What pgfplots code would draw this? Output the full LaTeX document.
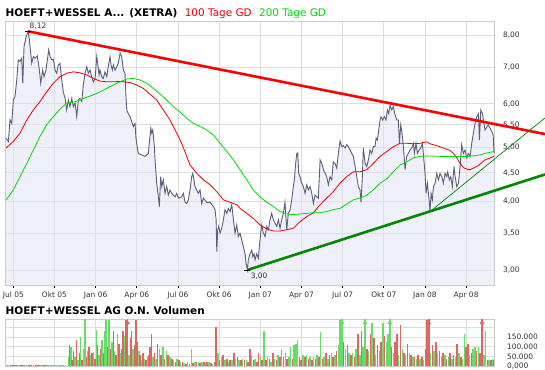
\documentclass[border=0pt]{standalone}
\usepackage{fontspec}
\setmainfont{DejaVu Sans}
\usepackage{pgfplots}
\pgfplotsset{compat=1.18}
\usepackage{pgfplotstable}

\definecolor{pricecol}{HTML}{5A5F7A}
\definecolor{fillcol}{HTML}{E4E4F8}
\definecolor{gridcol}{HTML}{DDDDDD}
\definecolor{bordercol}{HTML}{CCCCCC}
\definecolor{ticktext}{HTML}{333333}
\definecolor{ma100}{HTML}{EE0000}
\definecolor{ma200}{HTML}{00DD00}
\definecolor{trendred}{HTML}{FF0000}
\definecolor{trendgreen}{HTML}{008800}
\definecolor{volgreen}{HTML}{66DD66}
\definecolor{volred}{HTML}{E06666}
\definecolor{titlered}{HTML}{EE0000}
\definecolor{titlegreen}{HTML}{00DD00}

\pgfplotstableread{
m p
-0.53 5.20
-0.36 5.13
-0.24 5.61
-0.12 5.53
0.00 6.10
0.12 6.18
0.25 6.63
0.36 7.21
0.49 7.16
0.61 7.26
0.69 6.54
0.78 7.62
0.93 7.94
1.09 8.12
1.17 7.84
1.27 7.41
1.34 7.11
1.46 7.31
1.58 7.26
1.75 7.33
1.90 6.91
2.00 6.54
2.14 6.91
2.24 6.72
2.38 6.91
2.48 7.21
2.58 7.52
2.68 7.31
2.80 7.21
2.92 7.23
3.04 6.91
3.16 6.82
3.28 7.06
3.40 7.11
3.53 6.63
3.64 6.31
3.77 6.14
3.89 5.85
4.01 6.10
4.13 5.93
4.26 6.14
4.37 5.93
4.50 6.02
4.62 5.69
4.74 6.10
4.86 6.14
4.99 6.06
5.10 6.49
5.23 6.82
5.35 7.01
5.47 6.82
5.59 6.91
5.71 6.72
5.83 6.58
5.96 6.67
6.08 7.31
6.15 7.11
6.25 6.77
6.32 6.91
6.44 6.72
6.56 6.67
6.68 6.86
6.81 6.72
6.92 7.01
7.05 7.31
7.12 7.06
7.22 6.91
7.29 7.06
7.41 6.91
7.54 7.01
7.65 7.11
7.78 7.41
7.90 7.31
8.02 6.91
8.14 6.82
8.21 6.18
8.27 5.85
8.38 5.76
8.51 5.69
8.63 5.57
8.75 5.46
8.87 5.53
8.94 5.20
9.04 4.99
9.11 4.88
9.36 4.85
9.60 4.82
9.84 4.88
9.91 5.09
10.02 5.42
10.09 5.31
10.16 5.38
10.20 5.27
10.28 5.02
10.33 4.75
10.40 4.49
10.45 4.31
10.57 4.07
10.64 3.91
10.74 4.43
10.82 4.25
10.93 4.37
11.06 4.13
11.18 4.25
11.30 4.10
11.42 4.19
11.55 4.13
11.79 4.07
11.91 4.13
12.03 4.05
12.27 4.07
12.39 4.13
12.52 3.98
12.64 3.96
12.76 4.02
12.88 4.19
13.00 4.43
13.08 4.49
13.17 4.37
13.24 4.25
13.48 4.13
13.61 4.19
13.73 3.96
13.85 4.05
14.10 3.98
14.34 3.98
14.58 3.91
14.70 3.86
14.78 3.70
14.83 3.24
14.90 3.55
14.97 3.60
15.07 3.50
15.19 3.57
15.31 3.70
15.43 3.86
15.56 3.80
15.67 3.88
15.80 3.83
15.92 3.94
16.04 3.70
16.16 3.50
16.28 3.62
16.40 3.45
16.52 3.50
16.65 3.40
16.76 3.31
16.89 3.21
16.96 3.09
17.06 3.00
17.13 3.13
17.25 3.21
17.38 3.26
17.45 3.17
17.54 3.21
17.62 3.13
17.74 3.21
17.86 3.15
17.93 3.31
18.03 3.50
18.11 3.62
18.22 3.50
18.35 3.45
18.47 3.60
18.59 3.55
18.71 3.70
18.83 3.80
18.95 3.70
19.08 3.65
19.20 3.60
19.32 3.70
19.44 3.57
19.56 3.70
19.68 3.80
19.80 3.98
19.88 3.70
19.93 3.55
20.04 3.80
20.17 3.86
20.29 4.02
20.41 4.25
20.48 4.37
20.58 4.68
20.66 4.88
20.73 4.89
20.80 4.49
20.89 4.43
21.02 4.31
21.14 4.25
21.26 4.13
21.39 4.28
21.50 4.19
21.63 4.25
21.75 4.13
21.87 3.96
21.99 4.10
22.12 4.07
22.23 4.05
22.36 4.75
22.48 4.68
22.60 4.56
22.72 4.49
22.84 4.43
22.96 4.28
23.08 4.43
23.21 4.37
23.32 4.71
23.45 4.68
23.57 4.59
23.69 4.88
23.81 5.14
23.94 5.02
24.05 5.04
24.18 4.99
24.30 5.06
24.42 5.02
24.54 4.95
24.67 4.88
24.78 4.82
24.91 4.62
25.03 4.43
25.15 4.25
25.27 4.19
25.34 3.98
25.44 4.43
25.51 4.99
25.64 4.68
25.76 4.62
25.88 4.75
26.00 4.95
26.12 4.88
26.24 5.02
26.36 5.02
26.44 5.20
26.53 5.16
26.60 5.31
26.73 5.61
26.80 5.69
26.92 5.61
27.04 5.69
27.16 5.61
27.26 5.85
27.36 5.76
27.46 5.97
27.58 5.85
27.70 5.93
27.82 5.73
27.95 5.61
28.06 5.61
28.14 5.09
28.24 5.50
28.33 5.31
28.43 5.02
28.50 4.75
28.55 4.56
28.67 4.82
28.79 4.88
28.91 4.95
29.04 4.99
29.16 5.09
29.23 4.88
29.35 5.09
29.45 4.88
29.57 4.95
29.69 4.99
29.81 5.09
29.88 4.88
30.01 4.49
30.08 4.13
30.18 4.31
30.30 4.02
30.37 3.84
30.45 4.13
30.54 4.02
30.62 4.25
30.74 4.31
30.86 4.49
30.98 4.37
31.10 4.49
31.23 4.43
31.34 4.31
31.47 4.49
31.59 4.43
31.66 4.52
31.78 4.37
31.88 4.43
32.00 4.25
32.12 4.62
32.20 4.43
32.32 4.25
32.44 4.31
32.56 4.62
32.68 5.06
32.80 4.88
32.92 4.95
33.05 4.79
33.16 4.88
33.29 4.82
33.41 5.09
33.53 5.31
33.65 5.53
33.78 5.69
33.90 5.76
33.97 5.16
34.07 5.85
34.19 5.76
34.26 5.61
34.38 5.38
34.60 5.50
34.87 5.35
34.97 5.27
35.04 4.88
}\price

\pgfplotstableread{
m p
-0.53 4.99
0.00 5.13
0.49 5.31
0.98 5.61
1.46 5.85
1.95 6.06
2.43 6.31
2.92 6.54
3.40 6.72
3.89 6.82
4.37 6.86
4.86 6.83
5.35 6.77
5.83 6.67
6.32 6.60
6.81 6.58
7.29 6.58
7.78 6.59
8.51 6.56
8.99 6.49
9.48 6.40
9.96 6.25
10.45 6.10
10.93 5.85
11.42 5.61
11.91 5.31
12.27 5.09
12.64 4.82
12.88 4.65
13.37 4.49
13.85 4.37
14.34 4.28
14.83 4.16
15.31 4.02
15.80 3.98
16.28 3.94
16.52 3.88
17.01 3.80
17.49 3.72
17.98 3.62
18.47 3.56
18.95 3.53
19.44 3.53
19.93 3.55
20.41 3.57
20.89 3.67
21.39 3.75
21.87 3.81
22.36 3.94
22.84 4.05
23.32 4.16
23.81 4.31
24.30 4.43
24.78 4.52
25.27 4.52
25.76 4.56
26.24 4.68
26.73 4.82
27.22 4.92
27.70 5.02
28.19 5.09
28.67 5.09
29.16 5.08
29.64 5.09
30.13 5.12
30.37 5.08
30.86 5.04
31.34 4.99
31.83 4.94
32.07 4.88
32.32 4.79
32.56 4.68
32.80 4.60
33.05 4.57
33.29 4.56
33.53 4.59
33.78 4.62
34.02 4.67
34.38 4.75
35.04 4.82
}\maA

\pgfplotstableread{
m p
-0.53 4.02
0.00 4.19
0.49 4.43
0.98 4.68
1.46 4.95
1.95 5.24
2.43 5.50
2.92 5.69
3.40 5.87
3.89 6.02
4.37 6.04
4.86 6.10
5.35 6.17
5.83 6.23
6.32 6.31
6.81 6.40
7.29 6.49
7.78 6.58
8.27 6.66
8.75 6.67
9.23 6.63
9.72 6.54
10.20 6.40
10.69 6.25
11.18 6.10
11.66 5.93
12.15 5.80
12.64 5.65
13.12 5.53
13.61 5.46
14.10 5.38
14.58 5.27
15.07 5.09
15.56 4.92
16.04 4.75
16.52 4.56
17.01 4.37
17.49 4.19
17.98 4.07
18.47 3.98
18.95 3.91
19.44 3.83
19.93 3.79
20.41 3.78
20.89 3.79
21.39 3.80
21.87 3.81
22.36 3.81
22.84 3.83
23.32 3.86
23.81 3.88
24.30 3.95
24.78 4.02
25.27 4.05
25.76 4.10
26.24 4.19
26.73 4.31
27.22 4.39
27.70 4.52
28.19 4.65
28.67 4.71
29.16 4.79
29.64 4.82
30.13 4.83
31.10 4.82
32.07 4.82
33.05 4.82
33.53 4.83
34.02 4.85
34.38 4.88
35.04 4.92
}\maB

\pgfplotstableread{
m v
-0.47 5000
-0.34 5000
2.51 5000
2.64 5000
2.76 5000
2.89 5000
3.02 5000
3.15 5000
3.28 5000
3.41 5000
3.54 5000
3.67 5000
3.80 5000
4.01 49000
4.19 97500
4.50 49000
4.70 29000
4.91 150000
5.12 88000
5.22 244000
5.43 78000
5.63 58500
5.84 72000
6.05 189000
6.25 58500
6.46 136500
6.67 185000
6.77 240000
6.98 240000
7.18 127000
7.39 78000
7.60 166000
7.80 68000
8.11 156000
8.42 58500
8.73 88000
9.15 78000
9.35 29000
9.56 39000
9.77 49000
10.18 49000
10.39 39000
10.65 88000
10.90 97500
11.16 78000
11.42 49000
11.68 29000
11.94 39000
12.20 19500
12.45 13700
12.71 19500
12.97 88000
13.23 19500
13.49 19500
13.75 19500
14.01 13700
14.26 19500
14.52 9800
14.91 68000
15.17 49000
15.43 29000
15.68 19500
15.94 29000
16.20 39000
16.46 29000
16.72 39000
16.98 29000
17.36 58500
17.62 39000
18.01 49000
18.27 185000
18.53 49000
18.79 19500
19.04 39000
19.30 58500
19.56 88000
19.82 68000
20.08 49000
20.21 97500
20.47 107000
20.59 117000
20.72 136500
21.11 58500
21.37 58500
21.63 49000
21.89 49000
22.14 58500
22.40 175500
22.66 49000
22.92 39000
23.18 68000
23.44 58500
23.70 107000
23.82 240000
23.95 300000
24.21 88000
24.47 68000
24.73 68000
24.99 88000
25.25 58500
25.50 97500
25.63 300000
25.89 78000
26.15 224000
26.41 58500
26.67 78000
26.93 224000
27.18 127000
27.31 166000
27.44 300000
27.70 68000
28.09 58500
28.35 88000
28.60 58500
28.86 68000
29.12 49000
29.38 39000
29.64 39000
29.90 29000
30.41 68000
30.67 78000
30.93 68000
31.19 49000
31.45 58500
31.71 49000
31.96 39000
32.22 49000
32.48 68000
32.74 39000
32.87 166000
33.26 58500
33.51 88000
33.64 97500
33.90 97500
34.29 58500
34.42 185000
34.68 29000
34.94 39000
}\volG

\pgfplotstableread{
m v
-0.21 5000
-0.08 5000
0.05 5000
0.18 5000
0.31 5000
0.44 5000
0.57 5000
0.70 5000
0.83 5000
0.96 5000
1.09 5000
1.21 5000
1.34 5000
1.47 5000
1.60 5000
1.73 5000
1.86 5000
1.99 5000
2.12 5000
2.25 5000
2.38 5000
4.11 107000
4.26 29000
4.39 78000
4.60 136500
4.81 68000
5.01 29000
5.32 49000
5.53 97500
5.74 68000
5.94 39000
6.15 107000
6.36 88000
6.56 68000
6.87 97500
7.08 88000
7.29 185000
7.49 58500
7.70 117000
7.91 88000
8.01 185000
8.22 240000
8.32 300000
8.53 146000
8.63 185000
8.84 107000
8.94 240000
9.04 127000
9.25 58500
9.46 68000
9.66 29000
9.87 58500
9.97 97500
10.08 166000
10.28 68000
10.52 117000
10.78 58500
11.03 39000
11.29 58500
11.55 39000
11.81 19500
12.07 29000
12.33 19500
12.58 9800
12.84 9800
13.10 13700
13.36 19500
13.62 13700
13.88 19500
14.13 19500
14.39 13700
14.65 19500
14.78 205000
15.04 29000
15.30 58500
15.56 39000
15.81 29000
16.07 68000
16.33 49000
16.59 29000
16.85 29000
17.11 19500
17.24 88000
17.49 29000
17.75 19500
17.88 68000
18.14 29000
18.40 29000
18.66 39000
18.91 68000
19.17 29000
19.43 49000
19.69 49000
19.95 39000
20.34 39000
20.85 49000
20.98 29000
21.24 49000
21.50 39000
21.76 29000
22.02 39000
22.27 49000
22.53 39000
22.79 68000
23.05 58500
23.31 49000
23.57 78000
24.08 127000
24.34 107000
24.60 58500
24.86 49000
25.12 166000
25.37 185000
25.76 88000
26.02 166000
26.28 146000
26.54 107000
26.80 127000
27.05 156000
27.57 97500
27.83 127000
27.96 166000
28.22 214500
28.48 68000
28.73 117000
28.99 58500
29.25 49000
29.51 58500
29.77 49000
30.03 88000
30.16 240000
30.28 300000
30.54 107000
30.80 127000
31.06 78000
31.32 68000
31.58 39000
31.84 68000
32.09 58500
32.35 117000
32.61 49000
33.00 97500
33.13 117000
33.39 68000
33.77 78000
34.03 68000
34.16 300000
34.55 29000
34.81 29000
35.00 29000
}\volR

\pgfplotsset{
  base/.style={
    scale only axis,
    anchor=south west,
    width=489bp,
    xmin=-0.57, xmax=35.07,
    grid=major,
    grid style={draw=gridcol, line width=0.8bp},
    axis line style={draw=bordercol, line width=0.8bp},
    tick label style={font=\fontsize{7.5}{9}\selectfont, text=ticktext},
    yticklabel pos=right,
    ytick style={draw=none},
    xtick={0,3,6,9,12,15,18,21,24,27,30,33},
  }
}

\begin{document}
\begin{tikzpicture}
\useasboundingbox (0,0) rectangle (545bp,370bp);
\fill[white] (0,0) rectangle (545bp,370bp);

% main price axis
\begin{axis}[base,
  at={(5.5bp,85bp)}, height=264bp,
  ymode=log, ymin=2.818, ymax=8.48,
  ytick={3,3.5,4,4.5,5,5.5,6,7,8},
  yticklabels={{3,00},{3,50},{4,00},{4,50},{5,00},{5,50},{6,00},{7,00},{8,00}},
  yticklabel style={anchor=west, xshift=2bp},
  xticklabels={Jul 05,Okt 05,Jan 06,Apr 06,Jul 06,Okt 06,Jan 07,Apr 07,Jul 07,Okt 07,Jan 08,Apr 08},
  xtick pos=left, tick align=outside, major tick length=3bp,
  xtick style={draw=black, line width=0.7bp},
  xticklabel style={yshift=-0.5bp},
]
\addplot[draw=none, fill=fillcol, fill opacity=0.55] table[x=m,y=p]{\price} \closedcycle;
\addplot[pricecol, line width=0.9bp] table[x=m,y=p]{\price};
\addplot[ma100, line width=0.8bp] table[x=m,y=p]{\maA};
\addplot[ma200, line width=0.8bp] table[x=m,y=p]{\maB};
\end{axis}

% overlay: trend lines and extreme values (not clipped)
\begin{axis}[
  scale only axis, anchor=south west, at={(5.5bp,85bp)},
  width=489bp, height=264bp,
  xmin=-0.57, xmax=35.07, ymode=log, ymin=2.818, ymax=8.48,
  hide axis, clip=false,
]
\addplot[trendred, line width=2.6bp] coordinates {(1.09,8.12) (38.75,5.29)};
\addplot[trendgreen, line width=2.6bp] coordinates {(17.06,3.00) (38.75,4.47)};
\addplot[trendgreen, line width=0.7bp] coordinates {(30.44,3.84) (38.75,5.66)};
\addplot[only marks, mark=-, mark size=3bp, mark options={line width=0.9bp, black},
  nodes near coords, point meta=explicit symbolic,
  nodes near coords style={anchor=south west, inner sep=0pt, xshift=1bp, yshift=1.5bp,
    font=\fontsize{7.5}{9}\selectfont, text=ticktext}]
  table[x=m, y=p, meta=l]{
m p l
1.09 8.12 8,12
};
\addplot[only marks, mark=-, mark size=3bp, mark options={line width=0.9bp, black},
  nodes near coords, point meta=explicit symbolic,
  nodes near coords style={anchor=north west, inner sep=0pt, xshift=3bp, yshift=-3bp,
    font=\fontsize{7.5}{9}\selectfont, text=ticktext}]
  table[x=m, y=p, meta=l]{
m p l
17.06 3.00 3,00
};
\end{axis}

% volume axis
\begin{axis}[base,
  at={(5.5bp,4bp)}, height=47bp,
  ymin=0, ymax=245000,
  ytick={0,50000,100000,150000,200000},
  yticklabels={{0,000},{50.000},{100.000},{150.000},{}},
  yticklabel style={anchor=west, xshift=9bp},
  xticklabels={},
  xtick style={draw=none},
  scaled y ticks=false,
]
\addplot[ycomb, draw=volgreen, line width=1.5bp] table[x=m,y=v]{\volG};
\addplot[ycomb, draw=volred, line width=1.5bp] table[x=m,y=v]{\volR};
\addplot[only marks, mark=triangle*, mark size=2.4bp, volred] coordinates {(8.32,226000) (30.28,226000) (34.16,226000)};
\addplot[only marks, mark=triangle*, mark size=2.4bp, volgreen] coordinates {(23.95,226000) (25.63,226000) (27.44,226000)};
\end{axis}

% titles
\node[anchor=base west, inner sep=0pt, font=\bfseries\fontsize{10.5}{12}\selectfont] (t1) at (5.5bp,353.3bp) {HOEFT+WESSEL A... (XETRA)};
\node[anchor=base west, inner sep=0pt, font=\fontsize{10.5}{12}\selectfont, text=titlered] (t2) at ([xshift=7bp]t1.base east) {100 Tage GD};
\node[anchor=base west, inner sep=0pt, font=\fontsize{10.5}{12}\selectfont, text=titlegreen] at ([xshift=7bp]t2.base east) {200 Tage GD};
\node[anchor=base west, inner sep=0pt, font=\bfseries\fontsize{10.5}{12}\selectfont] at (5.5bp,55bp) {HOEFT+WESSEL AG O.N. Volumen};
\end{tikzpicture}
\end{document}
